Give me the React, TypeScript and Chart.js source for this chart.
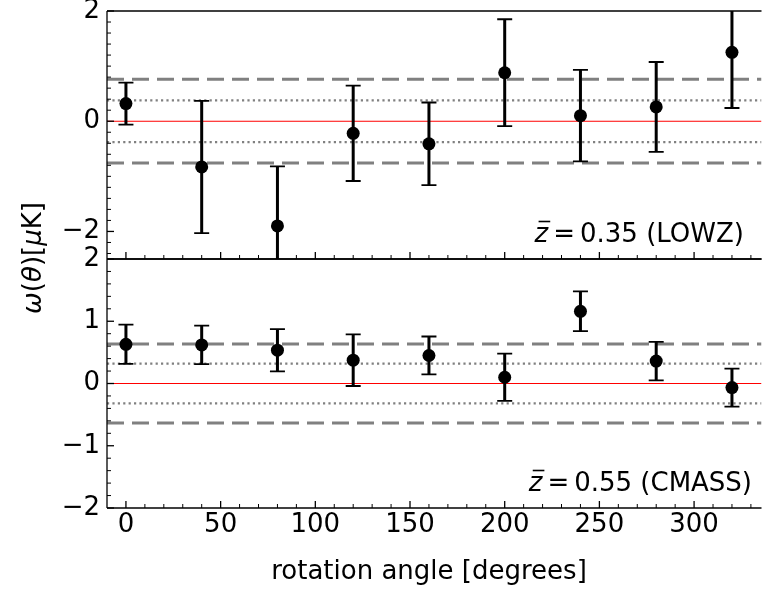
import React, { useEffect, useRef } from "react";
import { Chart, registerables } from "chart.js";

Chart.register(...registerables);

// ---------------- data ----------------
const angles = [0, 40, 80, 120, 160, 200, 240, 280, 320];
const lowzValues = [0.32, -0.83, -1.9, -0.22, -0.41, 0.88, 0.1, 0.26, 1.25];
const lowzErrors = [0.38, 1.2, 1.08, 0.865, 0.75, 0.97, 0.83, 0.815, 1.01];
const cmassValues = [0.63, 0.62, 0.535, 0.375, 0.45, 0.1, 1.16, 0.36, -0.065];
const cmassErrors = [0.315, 0.31, 0.34, 0.415, 0.305, 0.38, 0.32, 0.31, 0.305];
const lowzDashed = 0.76;
const lowzDotted = 0.38;
const cmassDashed = 0.635;
const cmassDotted = 0.32;
const xTickValues = [0, 50, 100, 150, 200, 250, 300];
const lowzYTicks = [-2, 0, 2];
const cmassYTicks = [-2, -1, 0, 1, 2];
const xRange = [-10, 335.6];
const lowzYRange = [-2.5, 2];
const cmassYRange = [-2, 2];
const lowzLabel = "0.35 (LOWZ)";
const cmassLabel = "0.55 (CMASS)";
const xTitle = "rotation angle [degrees]";

// ---------------- layout ----------------
const W = 768;
const H = 592;
const AXIS_LEFT = 107;
const FONT = '"DejaVu Sans", sans-serif';
const FS = 26;

const fmt = (v: number) => (v < 0 ? "\u2212" + Math.abs(v) : String(v));

interface PanelSpec {
  values: number[];
  errors: number[];
  dashed: number;
  dotted: number;
  yRange: number[];
  yTicks: number[];
  top: number;
  bottom: number;
  showXLabels: boolean;
  label: string;
  labelRight: number;
  labelBaseline: number;
  drawYTitle: boolean;
  drawXTitle: boolean;
}

const topSpec: PanelSpec = {
  values: lowzValues,
  errors: lowzErrors,
  dashed: lowzDashed,
  dotted: lowzDotted,
  yRange: lowzYRange,
  yTicks: lowzYTicks,
  top: 11,
  bottom: 259,
  showXLabels: false,
  label: lowzLabel,
  labelRight: 744,
  labelBaseline: 242,
  drawYTitle: true,
  drawXTitle: false,
};

const bottomSpec: PanelSpec = {
  values: cmassValues,
  errors: cmassErrors,
  dashed: cmassDashed,
  dotted: cmassDotted,
  yRange: cmassYRange,
  yTicks: cmassYTicks,
  top: 259,
  bottom: 508,
  showXLabels: true,
  label: cmassLabel,
  labelRight: 752,
  labelBaseline: 491,
  drawYTitle: false,
  drawXTitle: true,
};

const SCATTER_INDEX = 5;

function hline(y: number, color: string, width: number, dash: number[]) {
  return {
    data: [
      { x: xRange[0], y },
      { x: xRange[1], y },
    ],
    showLine: true,
    borderColor: color,
    backgroundColor: color,
    borderWidth: width,
    borderDash: dash,
    borderCapStyle: "butt",
    pointRadius: 0,
    pointHoverRadius: 0,
    fill: false,
    order: 2,
  };
}

function drawMixed(
  ctx: CanvasRenderingContext2D,
  parts: [string, boolean][],
  x: number,
  y: number
) {
  let cx = x;
  for (const [t, it] of parts) {
    ctx.font = `${it ? "italic " : ""}${FS}px ${FONT}`;
    ctx.fillText(t, cx, y);
    cx += ctx.measureText(t).width;
  }
  return cx;
}

function mixedWidth(ctx: CanvasRenderingContext2D, parts: [string, boolean][]) {
  let w = 0;
  for (const [t, it] of parts) {
    ctx.font = `${it ? "italic " : ""}${FS}px ${FONT}`;
    w += ctx.measureText(t).width;
  }
  return w;
}

function makeChart(canvas: HTMLCanvasElement, spec: PanelSpec) {
  const line = (ctx: CanvasRenderingContext2D, x1: number, y1: number, x2: number, y2: number) => {
    ctx.beginPath();
    ctx.moveTo(x1, y1);
    ctx.lineTo(x2, y2);
    ctx.stroke();
  };

  const decor = {
    id: "panelDecor",
    beforeDatasetDraw(chart: any, args: any) {
      if (args.index !== SCATTER_INDEX) return;
      const { ctx, chartArea: a, scales } = chart;
      const xs = scales.x;
      const ys = scales.y;
      ctx.save();
      ctx.beginPath();
      ctx.rect(a.left, a.top, a.right - a.left, a.bottom - a.top);
      ctx.clip();
      ctx.strokeStyle = "#000";
      angles.forEach((ang, i) => {
        const px = xs.getPixelForValue(ang);
        const yHi = ys.getPixelForValue(spec.values[i] + spec.errors[i]);
        const yLo = ys.getPixelForValue(spec.values[i] - spec.errors[i]);
        ctx.lineWidth = 3;
        line(ctx, px, yHi, px, yLo);
        ctx.lineWidth = 1.8;
        line(ctx, px - 7.5, yHi, px + 7.5, yHi);
        line(ctx, px - 7.5, yLo, px + 7.5, yLo);
      });
      ctx.restore();
    },
    afterDraw(chart: any) {
      const { ctx, chartArea: a, scales } = chart;
      const xs = scales.x;
      const ys = scales.y;
      ctx.save();
      ctx.strokeStyle = "#000";
      ctx.fillStyle = "#000";
      // frame (right side lies beyond the picture)
      ctx.lineWidth = 1.3;
      line(ctx, a.left, a.top, a.right, a.top);
      line(ctx, a.left, a.bottom, a.right, a.bottom);
      line(ctx, a.left, a.top, a.left, a.bottom);
      // y ticks, inward
      const [yMin, yMax] = spec.yRange;
      for (const v of spec.yTicks) {
        const py = ys.getPixelForValue(v);
        ctx.lineWidth = 1.3;
        line(ctx, a.left, py, a.left + 7, py);
      }
      for (let k = Math.ceil(yMin * 5 - 1e-9); k <= Math.floor(yMax * 5 + 1e-9); k++) {
        const v = k / 5;
        if (spec.yTicks.some((m) => Math.abs(m - v) < 1e-9)) continue;
        if (Math.abs(v - yMin) < 1e-9 || Math.abs(v - yMax) < 1e-9) continue;
        const py = ys.getPixelForValue(v);
        ctx.lineWidth = 1;
        line(ctx, a.left, py, a.left + 4, py);
      }
      // x ticks, inward from the bottom
      for (const v of xTickValues) {
        const px = xs.getPixelForValue(v);
        ctx.lineWidth = 1.3;
        line(ctx, px, a.bottom, px, a.bottom - 7);
      }
      for (let k = Math.ceil(xRange[0] / 10); k <= Math.floor(xRange[1] / 10); k++) {
        const v = k * 10;
        if (xTickValues.includes(v)) continue;
        if (v <= xRange[0] || v >= xRange[1]) continue;
        const px = xs.getPixelForValue(v);
        ctx.lineWidth = 1;
        line(ctx, px, a.bottom, px, a.bottom - 4);
      }

      // panel annotation  z̄ = ...
      ctx.textBaseline = "alphabetic";
      ctx.textAlign = "left";
      ctx.font = `${FS}px ${FONT}`;
      const wText = ctx.measureText(spec.label).width;
      const textX = spec.labelRight - wText;
      ctx.fillText(spec.label, textX, spec.labelBaseline);
      const wEq = ctx.measureText("=").width;
      const eqX = textX - 5 - wEq;
      ctx.fillText("=", eqX, spec.labelBaseline);
      ctx.font = `italic ${FS}px ${FONT}`;
      const wZ = ctx.measureText("z").width;
      const zX = eqX - 5 - wZ;
      ctx.fillText("z", zX, spec.labelBaseline);
      ctx.lineWidth = 1.6;
      line(ctx, zX + 4, spec.labelBaseline - 20.5, zX + wZ + 2, spec.labelBaseline - 20.5);

      if (spec.drawYTitle) {
        const parts: [string, boolean][] = [
          ["\u03c9", true],
          ["(", false],
          ["\u03b8", true],
          [")", false],
          ["[", false],
          ["\u03bc", true],
          ["K", false],
          ["]", false],
        ];
        ctx.save();
        ctx.translate(40.5, 258);
        ctx.rotate(-Math.PI / 2);
        const w = mixedWidth(ctx, parts);
        drawMixed(ctx, parts, -w / 2, 0);
        ctx.restore();
      }
      if (spec.drawXTitle) {
        ctx.font = `${FS}px ${FONT}`;
        ctx.textAlign = "center";
        ctx.fillText(xTitle, 429, 579);
      }
      ctx.restore();
    },
  };

  const config: any = {
    type: "scatter",
    data: {
      datasets: [
        hline(0, "#ff0000", 1.1, []),
        hline(spec.dashed, "#808080", 3, [17, 8]),
        hline(-spec.dashed, "#808080", 3, [17, 8]),
        hline(spec.dotted, "#808080", 2.2, [2.2, 3.2]),
        hline(-spec.dotted, "#808080", 2.2, [2.2, 3.2]),
        {
          data: angles.map((a, i) => ({ x: a, y: spec.values[i] })),
          backgroundColor: "#000",
          borderColor: "#000",
          borderWidth: 0,
          pointRadius: 6.5,
          pointHoverRadius: 6.5,
          order: 0,
        },
      ],
    },
    options: {
      responsive: false,
      maintainAspectRatio: false,
      devicePixelRatio: 1,
      animation: false,
      events: [],
      layout: { padding: { top: spec.top, left: 0, right: 0, bottom: 0 } },
      plugins: { legend: { display: false }, tooltip: { enabled: false } },
      scales: {
        x: {
          type: "linear",
          min: xRange[0],
          max: xRange[1],
          afterBuildTicks: (s: any) => {
            s.ticks = xTickValues.map((v) => ({ value: v }));
          },
          afterFit: (s: any) => {
            s.height = H - spec.bottom;
            s.paddingLeft = 0;
            s.paddingRight = 0;
          },
          ticks: {
            display: spec.showXLabels,
            font: { family: FONT, size: FS },
            color: "#000",
            padding: 2,
            autoSkip: false,
            maxRotation: 0,
            minRotation: 0,
            callback: (v: any) => fmt(Number(v)),
          },
          grid: { display: false, drawTicks: false },
          border: { display: false },
        },
        y: {
          type: "linear",
          min: spec.yRange[0],
          max: spec.yRange[1],
          afterBuildTicks: (s: any) => {
            s.ticks = spec.yTicks.map((v) => ({ value: v }));
          },
          afterFit: (s: any) => {
            s.width = AXIS_LEFT;
            s.paddingTop = 0;
            s.paddingBottom = 0;
          },
          ticks: {
            font: { family: FONT, size: FS, lineHeight: 1 },
            color: "#000",
            padding: 7,
            callback: (v: any) => fmt(Number(v)),
          },
          grid: { display: false, drawTicks: false },
          border: { display: false },
        },
      },
    },
    plugins: [decor],
  };
  return new Chart(canvas, config);
}

export default function App() {
  const topRef = useRef<HTMLCanvasElement>(null);
  const botRef = useRef<HTMLCanvasElement>(null);

  useEffect(() => {
    const c1 = makeChart(topRef.current!, topSpec);
    const c2 = makeChart(botRef.current!, bottomSpec);
    return () => {
      c1.destroy();
      c2.destroy();
    };
  }, []);

  const cstyle: React.CSSProperties = {
    position: "absolute",
    left: 0,
    top: 0,
    width: W,
    height: H,
  };

  return (
    <div
      style={{
        position: "absolute",
        left: 0,
        top: 0,
        width: W,
        height: H,
        background: "#fff",
        overflow: "hidden",
      }}
    >
      <canvas ref={topRef} width={W} height={H} style={cstyle} />
      <canvas ref={botRef} width={W} height={H} style={cstyle} />
    </div>
  );
}
